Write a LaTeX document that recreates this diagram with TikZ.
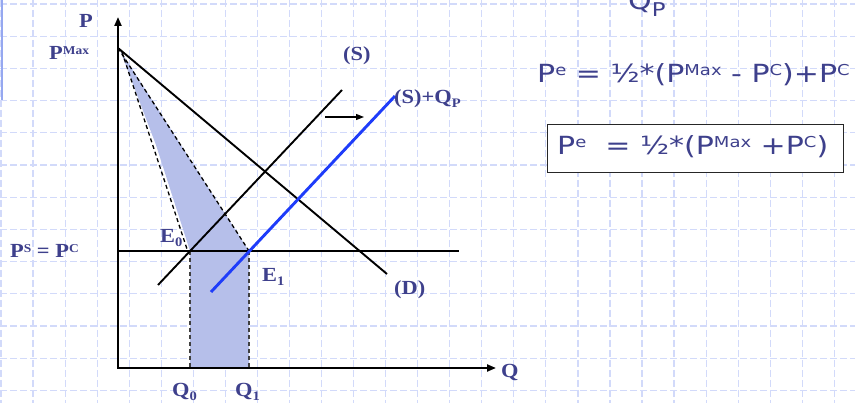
\documentclass[tikz,border=0pt]{standalone}
\usepackage{fontspec}
\setmainfont[FakeStretch=1.12]{Liberation Serif}
\newfontfamily\formfont[FakeStretch=1.2]{DejaVu Sans}
\usetikzlibrary{arrows.meta}
\definecolor{gridcol}{RGB}{210,218,250}
\definecolor{edgecol}{RGB}{150,168,240}
\definecolor{lab}{RGB}{62,64,140}
\definecolor{areacol}{RGB}{182,191,234}
\definecolor{shiftcol}{RGB}{30,60,250}
\newcommand{\lsup}[1]{\raisebox{5.5pt}{\fontsize{12}{12}\selectfont #1}}
\newcommand{\lsub}[1]{\raisebox{-4pt}{\fontsize{13}{13}\selectfont #1}}
\newcommand{\fsup}[1]{\raisebox{7.5pt}{\fontsize{15}{15}\selectfont #1}}

\begin{document}
\begin{tikzpicture}[x=1pt,y=-1pt,
  lbl/.style={text=lab,font=\bfseries\fontsize{20}{20}\selectfont,inner sep=0pt},
  form/.style={text=lab,font=\formfont\fontsize{25}{25}\selectfont,inner sep=0pt},
  curve/.style={line width=1.9pt},
  guide/.style={line width=1.3pt,dash pattern=on 4pt off 3pt},
  tip/.style={-{Triangle[length=9pt,width=7pt]}}]
\useasboundingbox (0,0) rectangle (855,403);
% background grid
\foreach \i in {0,...,26}{\draw[gridcol,line width=1.2pt,dash pattern=on 7pt off 3pt] ({1+32.05*\i},0) -- ({1+32.05*\i},403);}
\foreach \j in {0,...,12}{\draw[gridcol,line width=1.2pt,dash pattern=on 7pt off 3pt] (0,{4+32.2*\j}) -- (855,{4+32.2*\j});}
\draw[edgecol,line width=1.8pt] (2,0) -- (2,100);
% points
\coordinate (o) at (118,368);
\coordinate (ytip) at (118,17);
\coordinate (xtip) at (496,368);
\coordinate (pmax) at (118,48);
\coordinate (dend) at (387,274);
\coordinate (hstart) at (118,251);
\coordinate (hend) at (459,251);
\coordinate (s0) at (158,285);
\coordinate (s1) at (342,90);
\coordinate (t0) at (211,292);
\coordinate (t1) at (395,96);
\coordinate (e0) at (190,251);
\coordinate (e1) at (249,251);
\coordinate (q0) at (190,368);
\coordinate (q1) at (249,368);
\coordinate (atop) at (120,50);
\coordinate (abend) at (156,145);
\coordinate (ltop) at (122,52);
\coordinate (lend) at (187,249);
\coordinate (ar0) at (325,117);
\coordinate (ar1) at (364,117);
% shaded area
\fill[areacol] (atop) -- (abend) -- (e0) -- (q0) -- (q1) -- (e1) -- cycle;
\draw[guide] (ltop) -- (lend);
\draw[guide] (pmax) -- (e1);
\draw[guide,black!75] (e0) -- (q0);
\draw[guide,black!75] (e1) -- (q1);
% axes and curves
\draw[line width=2.1pt,tip] (o) -- (ytip);
\draw[line width=2.1pt,tip] ([xshift=-1pt]o) -- (xtip);
\draw[curve] (pmax) -- (dend);
\draw[curve] (hstart) -- (hend);
\draw[curve] (s0) -- (s1);
\draw[shiftcol,line width=2.9pt] (t0) -- (t1);
\draw[line width=1.3pt,-{Triangle[length=8pt,width=6pt]}] (ar0) -- (ar1);
% labels
\node[lbl,anchor=base east] (plab) at (93,28) {P};
\node[lbl,anchor=base west] (pmaxlab) at (49,60) {P\lsup{Max}};
\node[lbl,anchor=base west] (pclab) at (10,258) {P\lsup{S} = P\lsup{C}};
\node[lbl,anchor=base west] (slab) at (343,61) {(S)};
\node[lbl,anchor=base west] (sqlab) at (394,104) {(S)+Q\lsub{P}};
\node[lbl,anchor=base west] (e0lab) at (160,243) {E\lsub{0}};
\node[lbl,anchor=base west] (e1lab) at (262,282) {E\lsub{1}};
\node[lbl,anchor=base west] (dlab) at (394,295) {(D)};
\node[lbl,anchor=base west] (qlab) at (501,378) {Q};
\node[lbl,anchor=base west] (q0lab) at (172,397) {Q\lsub{0}};
\node[lbl,anchor=base west] (q1lab) at (235,397) {Q\lsub{1}};
% formulas
\node[form,anchor=base west] (qptop) at (628,10) {Q\raisebox{-7pt}{\fontsize{19}{19}\selectfont P}};
\node[form,anchor=base west] (pefull) at (537,83) {P\fsup{e} = ½*(P\fsup{Max} - P\fsup{C})+P\fsup{C}};
\node[draw=black!85,line width=1pt,fill=white,anchor=north west,minimum width=296pt,minimum height=48pt] (box) at (547,124) {};
\node[form,anchor=base west] (peshort) at (557,155) {P\fsup{e}\ \ = ½*(P\fsup{Max} +P\fsup{C})};
\end{tikzpicture}
\end{document}
